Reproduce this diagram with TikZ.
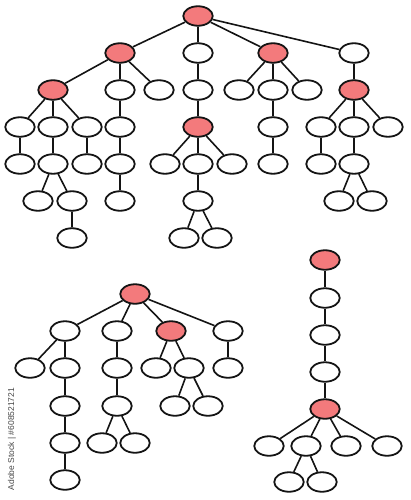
\documentclass[tikz,border=0pt]{standalone}
\usepackage{fontspec}
\setsansfont{Liberation Sans}
\usetikzlibrary{shapes.geometric}
\definecolor{hot}{RGB}{243,122,124}
\definecolor{ink}{RGB}{20,20,20}
\tikzset{
  nd/.style={ellipse,draw=ink,line width=1.8pt,fill=white,minimum width=29.5pt,minimum height=19.5pt,inner sep=0pt},
  rd/.style={nd,fill=hot},
  ed/.style={draw=ink,line width=1.6pt}
}
\begin{document}
\begin{tikzpicture}[x=1pt,y=-1pt]
\useasboundingbox (0,0) rectangle (410,500);
% ---------- top tree ----------
\node[rd] (R) at (198,16) {};
\node[rd] (A) at (120,53) {};
\node[nd] (B) at (198,53) {};
\node[rd] (C) at (273,53) {};
\node[nd] (D) at (354,53) {};
% level 2
\node[rd] (A1) at (53,90) {};
\node[nd] (A2) at (120,90) {};
\node[nd] (A3) at (159,90) {};
\node[nd] (B1) at (198,90) {};
\node[nd] (C1) at (239,90) {};
\node[nd] (C2) at (273,90) {};
\node[nd] (C3) at (307,90) {};
\node[rd] (D1) at (354,90) {};
% level 3
\node[nd] (A1a) at (20,127) {};
\node[nd] (A1b) at (53,127) {};
\node[nd] (A1c) at (87,127) {};
\node[nd] (A2a) at (120,127) {};
\node[rd] (B2) at (198,127) {};
\node[nd] (C2a) at (273,127) {};
\node[nd] (D1a) at (321,127) {};
\node[nd] (D1b) at (354,127) {};
\node[nd] (D1c) at (388,127) {};
% level 4
\node[nd] (A1aa) at (20,164) {};
\node[nd] (A1ba) at (53,164) {};
\node[nd] (A1ca) at (87,164) {};
\node[nd] (A2b) at (120,164) {};
\node[nd] (B2a) at (165,164) {};
\node[nd] (B2b) at (198,164) {};
\node[nd] (B2c) at (232,164) {};
\node[nd] (C2b) at (273,164) {};
\node[nd] (D1aa) at (321,164) {};
\node[nd] (D1ba) at (354,164) {};
% level 5
\node[nd] (A1bx) at (38,201) {};
\node[nd] (A1by) at (72,201) {};
\node[nd] (A2c) at (120,201) {};
\node[nd] (B2ba) at (198,201) {};
\node[nd] (D1bx) at (339,201) {};
\node[nd] (D1by) at (372,201) {};
% level 6
\node[nd] (A1byy) at (72,238) {};
\node[nd] (B2bx) at (184,238) {};
\node[nd] (B2by) at (217,238) {};
% edges top
\draw[ed] (R)--(A) (R)--(B) (R)--(C) (R)--(D);
\draw[ed] (A)--(A1) (A)--(A2) (A)--(A3) (B)--(B1) (C)--(C1) (C)--(C2) (C)--(C3) (D)--(D1);
\draw[ed] (A1)--(A1a) (A1)--(A1b) (A1)--(A1c) (A2)--(A2a) (B1)--(B2) (C2)--(C2a)
  (D1)--(D1a) (D1)--(D1b) (D1)--(D1c);
\draw[ed] (A1a)--(A1aa) (A1b)--(A1ba) (A1c)--(A1ca) (A2a)--(A2b)
  (B2)--(B2a) (B2)--(B2b) (B2)--(B2c) (C2a)--(C2b) (D1a)--(D1aa) (D1b)--(D1ba);
\draw[ed] (A1ba)--(A1bx) (A1ba)--(A1by) (A2b)--(A2c) (B2b)--(B2ba) (D1ba)--(D1bx) (D1ba)--(D1by);
\draw[ed] (A1by)--(A1byy) (B2ba)--(B2bx) (B2ba)--(B2by);
% ---------- bottom-left tree ----------
\node[rd] (P) at (135,294) {};
\node[nd] (P1) at (65,331) {};
\node[nd] (P2) at (117,331) {};
\node[rd] (P3) at (171,331) {};
\node[nd] (P4) at (228,331) {};
\node[nd] (P1a) at (30,368) {};
\node[nd] (P1b) at (65,368) {};
\node[nd] (P2a) at (117,368) {};
\node[nd] (P3a) at (156,368) {};
\node[nd] (P3b) at (189,368) {};
\node[nd] (P4a) at (228,368) {};
\node[nd] (P1c) at (65,406) {};
\node[nd] (P2b) at (117,406) {};
\node[nd] (P3ba) at (175,406) {};
\node[nd] (P3bb) at (208,406) {};
\node[nd] (P1d) at (65,443) {};
\node[nd] (P2ba) at (102,443) {};
\node[nd] (P2bb) at (135,443) {};
\node[nd] (P1e) at (65,480) {};
\draw[ed] (P)--(P1) (P)--(P2) (P)--(P3) (P)--(P4);
\draw[ed] (P1)--(P1a) (P1)--(P1b) (P2)--(P2a) (P3)--(P3a) (P3)--(P3b) (P4)--(P4a);
\draw[ed] (P1b)--(P1c) (P2a)--(P2b) (P3b)--(P3ba) (P3b)--(P3bb);
\draw[ed] (P1c)--(P1d) (P2b)--(P2ba) (P2b)--(P2bb) (P1d)--(P1e);
% ---------- bottom-right tree ----------
\node[rd] (Q) at (325,260) {};
\node[nd] (Q1) at (325,298) {};
\node[nd] (Q2) at (325,335) {};
\node[nd] (Q3) at (325,372) {};
\node[rd] (Q4) at (325,409) {};
\node[nd] (Q4a) at (269,446) {};
\node[nd] (Q4b) at (306,446) {};
\node[nd] (Q4c) at (346,446) {};
\node[nd] (Q4d) at (387,446) {};
\node[nd] (Q4ba) at (289,482) {};
\node[nd] (Q4bb) at (322,482) {};
\draw[ed] (Q)--(Q1) (Q1)--(Q2) (Q2)--(Q3) (Q3)--(Q4);
\draw[ed] (Q4)--(Q4a) (Q4)--(Q4b) (Q4)--(Q4c) (Q4)--(Q4d);
\draw[ed] (Q4b)--(Q4ba) (Q4b)--(Q4bb);
% watermark
\node[rotate=90,text=black!72,font=\sffamily\fontsize{8.5}{10}\selectfont,inner sep=0pt] (wm) at (12,439) {Adobe Stock | \#608521721};
\end{tikzpicture}
\end{document}
